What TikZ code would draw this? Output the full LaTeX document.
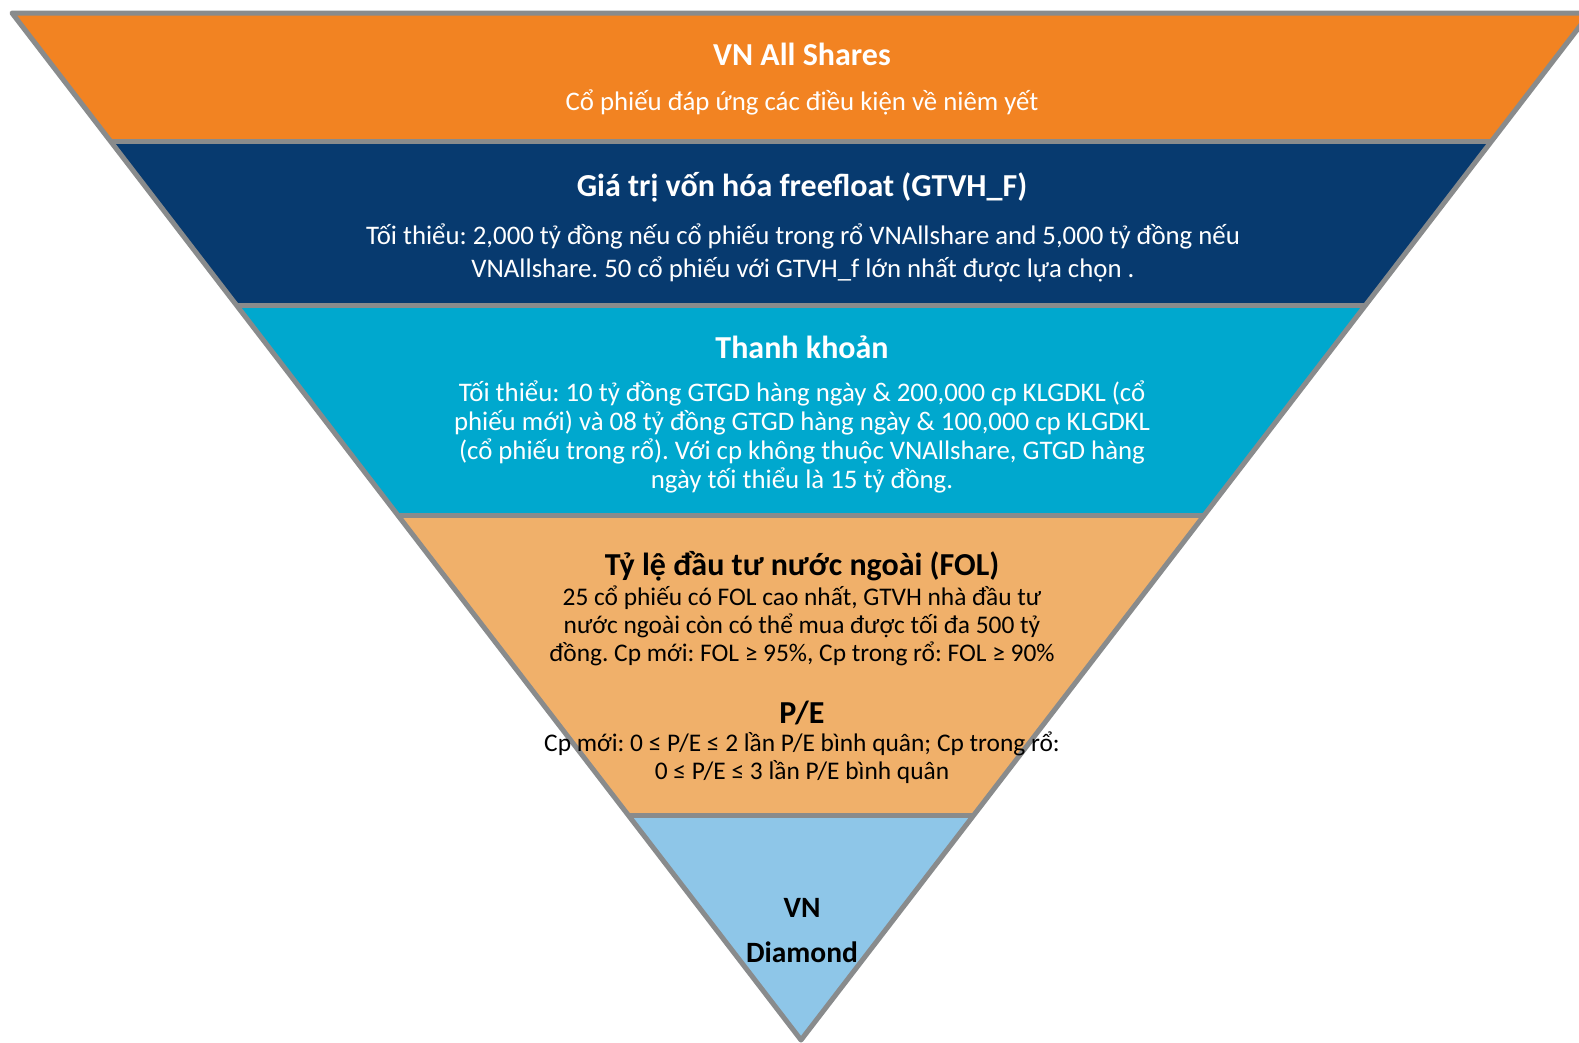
\documentclass[tikz,border=0pt]{standalone}
\usepackage{fontspec}
\setmainfont{Carlito}
\usetikzlibrary{calc}
\frenchspacing
\definecolor{cOrange}{HTML}{F28322}
\definecolor{cNavy}{HTML}{073A6F}
\definecolor{cCyan}{HTML}{00A8CE}
\definecolor{cPeach}{HTML}{F0B06A}
\definecolor{cSky}{HTML}{8EC6E8}
\definecolor{cEdge}{HTML}{898B8C}
\tikzset{
  band/.style={draw=cEdge, line width=5pt, line join=round},
  ttl/.style={font=\fontsize{32}{36}\selectfont\bfseries, align=center, inner sep=0pt},
  body/.style={font=\fontsize{26.8}{29}\selectfont, align=center, inner sep=0pt},
}
\begin{document}
\frenchspacing
\begin{tikzpicture}[x=1pt,y=-1pt]
\useasboundingbox (0,0) rectangle (1579,1042);
\clip (0,0) rectangle (1579,1042);
\coordinate (TL) at (12,13);
\coordinate (TR) at (1590,13);
\coordinate (A) at (801,1040);
\coordinate (L1) at ($(TL)!0.12463!(A)$);
\coordinate (R1) at ($(TR)!0.12463!(A)$);
\coordinate (L2) at ($(TL)!0.28432!(A)$);
\coordinate (R2) at ($(TR)!0.28432!(A)$);
\coordinate (L3) at ($(TL)!0.48880!(A)$);
\coordinate (R3) at ($(TR)!0.48880!(A)$);
\coordinate (L4) at ($(TL)!0.78092!(A)$);
\coordinate (R4) at ($(TR)!0.78092!(A)$);
\fill[cOrange] (TL) -- (TR) -- (R1) -- (L1) -- cycle;
\fill[cNavy] (L1) -- (R1) -- (R2) -- (L2) -- cycle;
\fill[cCyan] (L2) -- (R2) -- (R3) -- (L3) -- cycle;
\fill[cPeach] (L3) -- (R3) -- (R4) -- (L4) -- cycle;
\fill[cSky] (L4) -- (R4) -- (A) -- cycle;
\draw[band] (TL) -- (TR) -- (A) -- cycle;
\draw[band] (L1) -- (R1);
\draw[band] (L2) -- (R2);
\draw[band] (L3) -- (R3);
\draw[band] (L4) -- (R4);
% band 1
\node[ttl, text=white] (t1) at (802,54) {VN All Shares};
\node[body, text=white] (b1) at (802,102) {Cổ phiếu đáp ứng các điều kiện về niêm yết};
% band 2
\node[ttl, text=white] (t2) at (802,187) {Giá trị vốn hóa freefloat (GTVH\_F)};
\node[body, text=white, font=\fontsize{26.8}{33}\selectfont] (b2) at (803,253) {Tối thiểu: 2,000 tỷ đồng nếu cổ phiếu trong rổ VNAllshare and 5,000 tỷ đồng nếu\\VNAllshare. 50 cổ phiếu với GTVH\_f lớn nhất được lựa chọn .};
% band 3
\node[ttl, text=white] (t3) at (802,347) {Thanh khoản};
\node[body, text=white] (b3) at (802,437) {Tối thiểu: 10 tỷ đồng GTGD hàng ngày \& 200,000 cp KLGDKL (cổ\\phiếu mới) và 08 tỷ đồng GTGD hàng ngày \& 100,000 cp KLGDKL\\(cổ phiếu trong rổ). Với cp không thuộc VNAllshare, GTGD hàng\\ngày tối thiểu là 15 tỷ đồng.};
% band 4
\node[ttl] (t4) at (802,566) {Tỷ lệ đầu tư nước ngoài (FOL)};
\node[body, font=\fontsize{25.4}{28}\selectfont] (b4) at (802,626) {25 cổ phiếu có FOL cao nhất, GTVH nhà đầu tư\\nước ngoài còn có thể mua được tối đa 500 tỷ\\đồng. Cp mới: FOL ≥ 95\%, Cp trong rổ: FOL ≥ 90\%};
\node[ttl] (t5) at (802,713) {P/E};
\node[body, font=\fontsize{25.4}{28}\selectfont] (b5) at (802,758) {Cp mới: 0 ≤ P/E ≤ 2 lần P/E bình quân; Cp trong rổ:\\0 ≤ P/E ≤ 3 lần P/E bình quân};
% band 5
\node[ttl, font=\fontsize{29.5}{45}\selectfont\bfseries] (t6) at (802,931) {VN\\Diamond};
\end{tikzpicture}
\end{document}
